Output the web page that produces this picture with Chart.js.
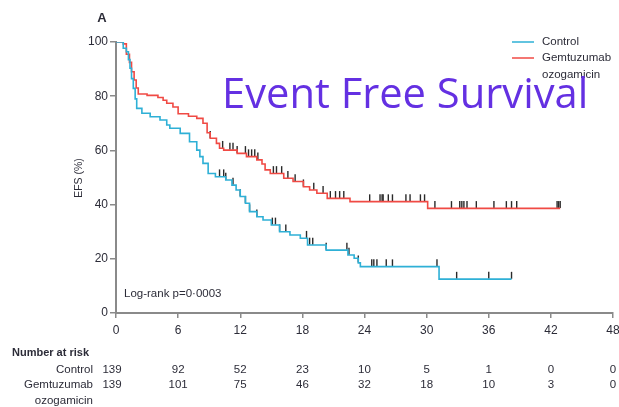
<!DOCTYPE html>
<html>
<head>
<meta charset="utf-8">
<script src="https://cdn.jsdelivr.net/npm/chart.js@4.4.1/dist/chart.umd.min.js"></script>
<style>
  html, body { margin: 0; padding: 0; background: #fff; }
  #wrap { width: 619px; height: 407px; }
</style>
</head>
<body>
<div id="wrap"><canvas id="efs-chart" width="619" height="407"></canvas></div>
<script>
// months on the x axis / number at risk
const riskMonths = [0, 6, 12, 18, 24, 30, 36, 42, 48];
const riskControl = [139, 92, 52, 23, 10, 5, 1, 0, 0];
const riskGO = [139, 101, 75, 46, 32, 18, 10, 3, 0];
const yTicks = [0, 20, 40, 60, 80, 100];

// Kaplan-Meier steps (month, EFS %)
const ctlTimes = [0, 0.7, 1.0, 1.2, 1.35, 1.5, 1.67, 1.85, 2.0, 2.5, 3.3, 4.25, 4.9, 5.2, 6.2, 7.1, 7.8, 8.1, 8.4, 8.9, 9.6, 10.6, 11.2, 11.6, 12.0, 12.5, 12.9, 13.6, 14.2, 15.0, 15.8, 16.8, 17.8, 18.5, 20.3, 22.4, 23.0, 23.4, 23.6, 31.2, 38.2];
const ctlSurv = [100, 97.7, 96.4, 93.5, 90.3, 86.5, 82.9, 79, 75.5, 73.7, 72.4, 71.2, 69.4, 68.2, 66.3, 63.2, 60.1, 57.7, 55.2, 51.5, 50.3, 49.1, 47.2, 45.4, 43.0, 40.5, 37.4, 35.5, 34.3, 32.5, 30.0, 28.8, 27.6, 25.1, 23.2, 21.4, 20.2, 18.5, 17.1, 12.5, 12.5];

const goTimes = [0, 0.7, 1.0, 1.3, 1.5, 1.75, 1.95, 2.15, 3.0, 4.05, 4.55, 4.9, 5.5, 6.0, 7.0, 7.8, 8.4, 8.8, 9.1, 9.7, 10.0, 10.4, 11.7, 12.6, 13.6, 14.1, 14.4, 14.9, 16.2, 17.1, 18.1, 18.7, 19.4, 20.4, 22.6, 30.1, 42.9];
const goSurv = [100, 99.3, 95.5, 92.5, 89.0, 86, 83, 80.8, 80.3, 79.5, 78.5, 77.4, 76, 73.5, 72.6, 71.8, 70, 66.5, 64.5, 62.6, 60.8, 60.1, 58.9, 57.7, 56.5, 55, 52.8, 51.5, 49.7, 48.5, 46.6, 45.4, 44.2, 42.3, 41.1, 38.6, 38.6];

// censoring marks (months)
const ctlCensor = [10.0, 10.4, 10.6, 11.3, 12.0, 12.5, 12.9, 13.6, 15.1, 15.4, 15.8, 16.4, 18.4, 18.7, 19.0, 20.3, 22.3, 22.5, 23.4, 24.7, 24.9, 25.2, 26.1, 26.7, 31.0, 32.9, 36.0, 38.2];
const goCensor = [9.1, 10.3, 11.0, 11.3, 11.7, 12.5, 12.8, 13.1, 13.4, 13.7, 15.2, 15.5, 16.0, 16.6, 17.3, 18.1, 19.1, 20.0, 20.7, 21.2, 21.6, 22.0, 24.5, 25.5, 25.7, 25.8, 26.3, 26.7, 28.0, 28.4, 29.4, 29.8, 30.8, 32.4, 33.2, 33.4, 33.6, 33.9, 34.8, 36.5, 37.7, 38.2, 38.7, 42.6, 42.75, 42.9];

const BLUE = '#2eb0d6';
const RED = '#f04a44';
const INK = '#2c2c38';
const SMALL = '"Liberation Sans", Arial, sans-serif';

function steps(times, surv) {
    return times.map((t, i) => ({ x: t, y: surv[i] }));
}
// value of the step curve at time t
function survAt(times, surv, t) {
    let v = surv[0];
    for (let i = 0; i < times.length; i++) {
        if (times[i] <= t) v = surv[i];
    }
    return v;
}
function censorPoints(list, times, surv) {
    return list.map(t => ({ x: t, y: survAt(times, surv, t) + 1.4 }));
}

const annotations = {
    id: 'annotations',
    afterDraw(chart) {
        const c = chart.ctx;
        const xs = chart.scales.x;
        c.save();
        c.fillStyle = INK;
        c.textBaseline = 'middle';

        // panel letter
        c.font = 'bold 13px ' + SMALL;
        c.textAlign = 'center';
        c.fillText('A', 102, 18);

        // y axis title
        c.save();
        c.translate(79, 178);
        c.rotate(-Math.PI / 2);
        c.textAlign = 'center';
        c.font = '10.5px ' + SMALL;
        c.fillText('EFS (%)', 0, 0);
        c.restore();

        // legend
        c.lineWidth = 1.5;
        c.strokeStyle = BLUE;
        c.beginPath(); c.moveTo(512, 42); c.lineTo(534, 42); c.stroke();
        c.strokeStyle = RED;
        c.beginPath(); c.moveTo(512, 58); c.lineTo(534, 58); c.stroke();
        c.font = '11.5px ' + SMALL;
        c.textAlign = 'left';
        c.fillText('Control', 542, 42);
        c.fillText('Gemtuzumab', 542, 58);
        c.fillText('ozogamicin', 542, 75);

        // log-rank
        c.font = '11.5px ' + SMALL;
        c.fillText('Log-rank p=0·0003', 124, 294);

        // number at risk table
        c.font = 'bold 11px ' + SMALL;
        c.fillText('Number at risk', 12, 353);
        c.font = '11.5px ' + SMALL;
        c.textAlign = 'right';
        c.fillText('Control', 93, 370);
        c.fillText('Gemtuzumab', 93, 385);
        c.fillText('ozogamicin', 93, 401);
        c.textAlign = 'center';
        riskMonths.forEach((m, i) => {
            const px = xs.getPixelForValue(m) - (i === 0 ? 4 : 0);
            c.fillText(String(riskControl[i]), px, 370);
            c.fillText(String(riskGO[i]), px, 385);
        });

        // overlay title, fitted to its width in the picture
        const title = 'Event Free Survival';
        c.fillStyle = '#6430e2';
        c.font = '40px "Open Sans", Lato, sans-serif';
        const w = c.measureText(title).width;
        const size = 40 * 366 / w;
        c.font = size.toFixed(1) + 'px "Open Sans", Lato, sans-serif';
        c.textAlign = 'left';
        c.textBaseline = 'alphabetic';
        c.fillText(title, 222, 108);
        c.restore();
    }
};

const ctx = document.getElementById('efs-chart').getContext('2d');
const chart = new Chart(ctx, {
    type: 'line',
    data: {
        datasets: [
            {
                label: 'Control',
                data: steps(ctlTimes, ctlSurv),
                stepped: true,
                borderColor: BLUE,
                borderWidth: 1.6,
                pointRadius: 0,
                fill: false
            },
            {
                label: 'Gemtuzumab ozogamicin',
                data: steps(goTimes, goSurv),
                stepped: true,
                borderColor: RED,
                borderWidth: 1.6,
                pointRadius: 0,
                fill: false
            },
            {
                type: 'scatter',
                label: 'censor control',
                data: censorPoints(ctlCensor, ctlTimes, ctlSurv),
                pointStyle: 'line',
                rotation: 90,
                radius: 3.5,
                borderColor: '#2a2a2a',
                borderWidth: 1.4,
                showLine: false
            },
            {
                type: 'scatter',
                label: 'censor GO',
                data: censorPoints(goCensor, goTimes, goSurv),
                pointStyle: 'line',
                rotation: 90,
                radius: 3.5,
                borderColor: '#2a2a2a',
                borderWidth: 1.4,
                showLine: false
            }
        ]
    },
    options: {
        responsive: false,
        animation: false,
        layout: { padding: { top: 42, right: 6, left: 0, bottom: 0 } },
        scales: {
            x: {
                type: 'linear',
                min: 0,
                max: 48,
                afterFit: s => { s.height = 94; s.paddingRight = 0; s.paddingLeft = 0; },
                ticks: {
                    stepSize: 6,
                    color: INK,
                    padding: 5,
                    font: { family: SMALL, size: 12 }
                },
                grid: { drawOnChartArea: false, drawTicks: true, tickLength: 5, color: '#8a8a8a', lineWidth: 1.5 },
                border: { color: '#8a8a8a', width: 2 }
            },
            y: {
                min: 0,
                max: 100,
                afterFit: s => { s.width = 116; },
                afterBuildTicks: s => { s.ticks = yTicks.map(v => ({ value: v })); },
                ticks: {
                    color: INK,
                    padding: 2,
                    font: { family: SMALL, size: 12 }
                },
                grid: { drawOnChartArea: false, drawTicks: true, tickLength: 6, color: '#8a8a8a', lineWidth: 1.5 },
                border: { color: '#8a8a8a', width: 2 }
            }
        },
        plugins: {
            legend: { display: false },
            tooltip: { enabled: false }
        }
    },
    plugins: [annotations]
});
</script>
</body>
</html>
